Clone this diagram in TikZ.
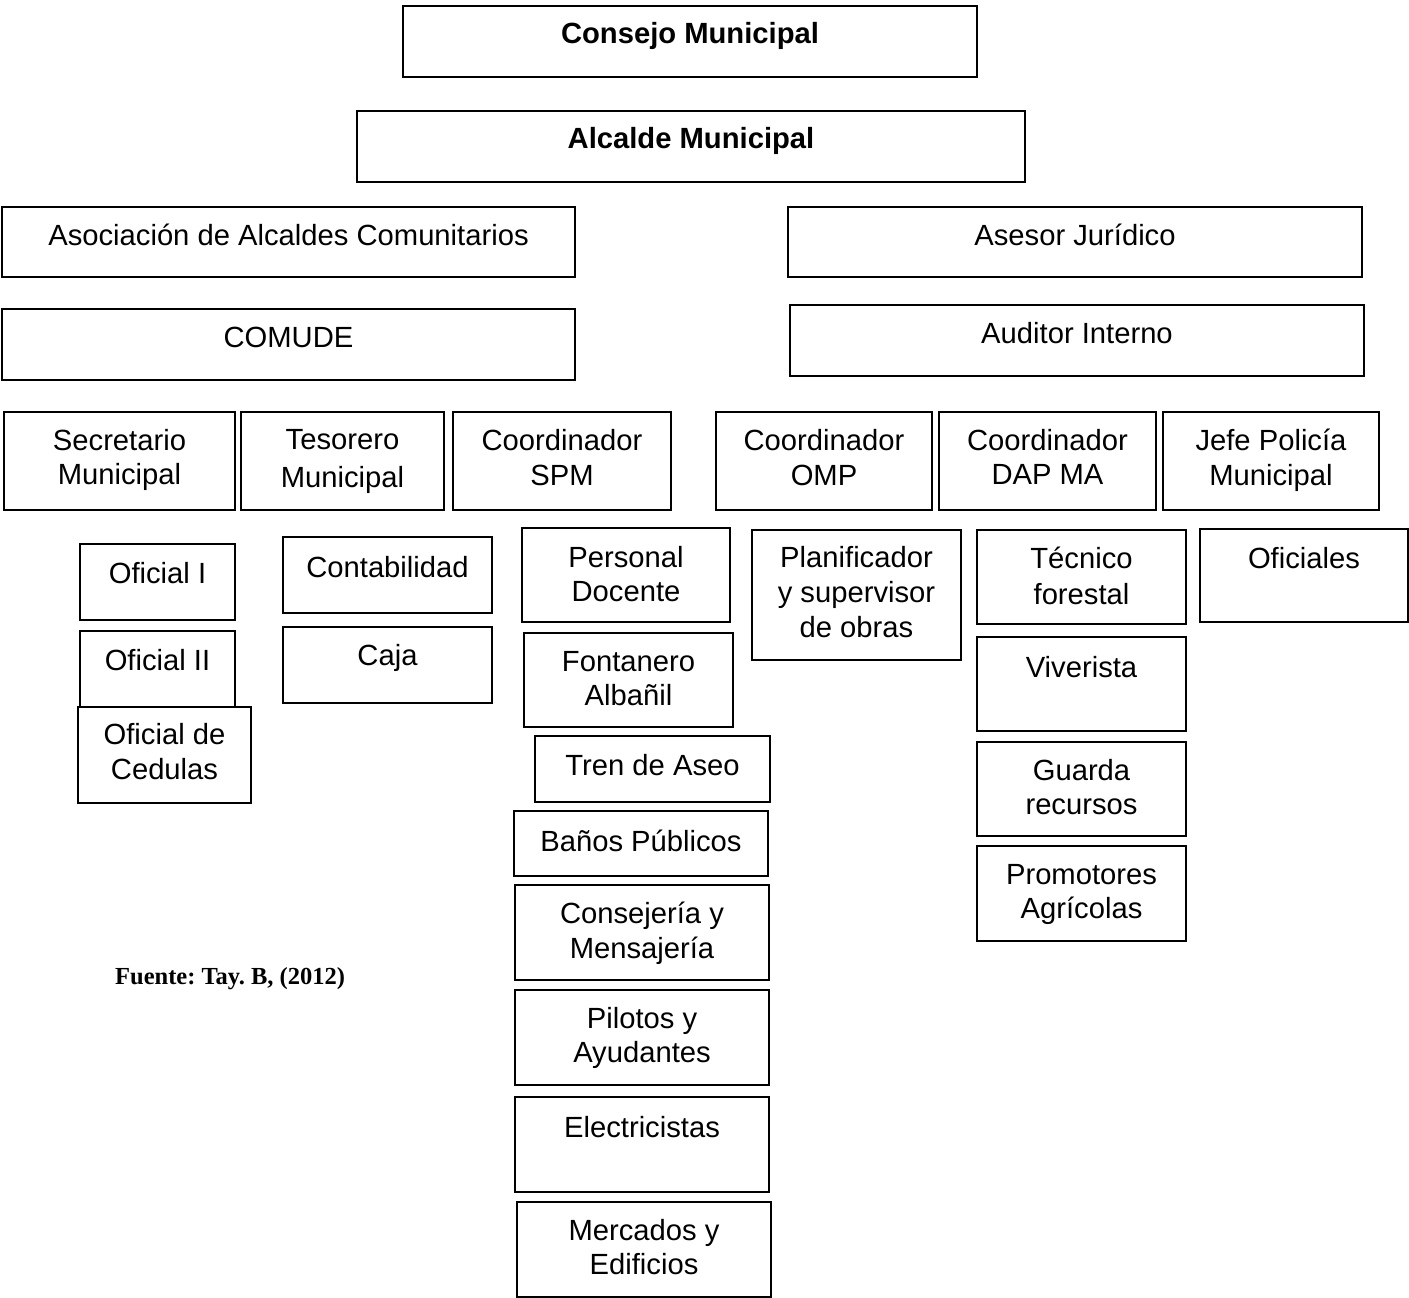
\documentclass[tikz,border=0pt]{standalone}
\usepackage{fontspec}
\setmainfont{Liberation Sans}
\newfontfamily\srcfont{Liberation Serif}
\frenchspacing
\tikzset{
  orgbox/.style={draw=black, fill=white, line width=2.2pt, inner sep=0pt, rectangle},
  orgtxt/.style={inner sep=0pt, align=center, font=\fontsize{29.2}{34.5}\selectfont, anchor=north},
}
\newcommand\obox[7]{%
  \node[orgbox, minimum width={(#4-#2)*1pt}, minimum height={(#5-#3)*1pt}] (#1) at ({(#2+#4)/2},{(#3+#5)/2}) {};
  \node[orgtxt] (#1-t) at ({(#2+#4)/2},{#6-21}) {#7};
}
\begin{document}
\begin{tikzpicture}[x=1pt,y=-1pt]
\useasboundingbox[fill=white] (0,0) rectangle (1409,1298);
% top levels
\obox{cm}{403}{6}{977}{77}{43}{\bfseries Consejo Municipal}
\obox{am}{357}{111}{1025}{182}{148}{\bfseries Alcalde Municipal}
\obox{aac}{2}{207}{575}{277}{245}{Asociación de Alcaldes Comunitarios}
\obox{aj}{788}{207}{1362}{277}{245}{Asesor Jurídico}
\obox{comude}{2}{309}{575}{380}{348}{COMUDE}
\obox{ai}{790}{305}{1364}{376}{343}{Auditor Interno}
% department heads
\obox{sm}{4}{412}{235}{510}{450}{Secretario\\Municipal}
\obox{tm}{241}{412}{444}{510}{450}{Tesorero\\[4pt]Municipal}
\obox{spm}{453}{412}{671}{510}{450}{Coordinador\\[0.5pt]SPM}
\obox{omp}{716}{412}{932}{510}{450}{Coordinador\\[0.5pt]OMP}
\obox{dap}{939}{412}{1156}{510}{450}{Coordinador\\DAP MA}
\obox{jpm}{1163}{412}{1379}{510}{450}{Jefe Policía\\Municipal}
% secretaria
\obox{o1}{80}{544}{235}{620}{583}{Oficial I}
\obox{o2}{80}{631}{235}{720}{670}{Oficial II}
\obox{oc}{78}{707}{251}{803}{744}{Oficial de\\[0.5pt]Cedulas}
% tesoreria
\obox{cont}{283}{537}{492}{613}{577}{Contabilidad}
\obox{caja}{283}{627}{492}{703}{665}{Caja}
% SPM
\obox{pd}{522}{528}{730}{622}{567}{Personal\\Docente}
\obox{fa}{524}{633}{733}{727}{672}{Fontanero\\Albañil}
\obox{ta}{535}{736}{770}{802}{775}{Tren de Aseo}
\obox{bp}{514}{811}{768}{876}{851}{Baños Públicos}
\obox{cym}{515}{885}{769}{980}{923}{Consejería y\\Mensajería}
\obox{pya}{515}{990}{769}{1085}{1028}{Pilotos y\\Ayudantes}
\obox{el}{515}{1097}{769}{1192}{1137}{Electricistas}
\obox{mye}{517}{1202}{771}{1297}{1240}{Mercados y\\Edificios}
% OMP
\obox{pso}{752}{530}{961}{660}{567}{Planificador\\[0.5pt]y supervisor\\[0.5pt]de obras}
% DAP MA
\obox{tf}{977}{530}{1186}{624}{568}{Técnico\\[1.5pt]forestal}
\obox{viv}{977}{637}{1186}{731}{677}{Viverista}
\obox{gr}{977}{742}{1186}{836}{780}{Guarda\\recursos}
\obox{pa}{977}{846}{1186}{941}{885}{Promotores\\Agrícolas}
% Policia
\obox{ofi}{1200}{529}{1408}{622}{568}{Oficiales}
% source
\node[inner sep=0pt, anchor=base west, font=\srcfont\bfseries\fontsize{24.5}{29}\selectfont] (src) at (115,984) {Fuente: Tay. B, (2012)};
\end{tikzpicture}
\end{document}
